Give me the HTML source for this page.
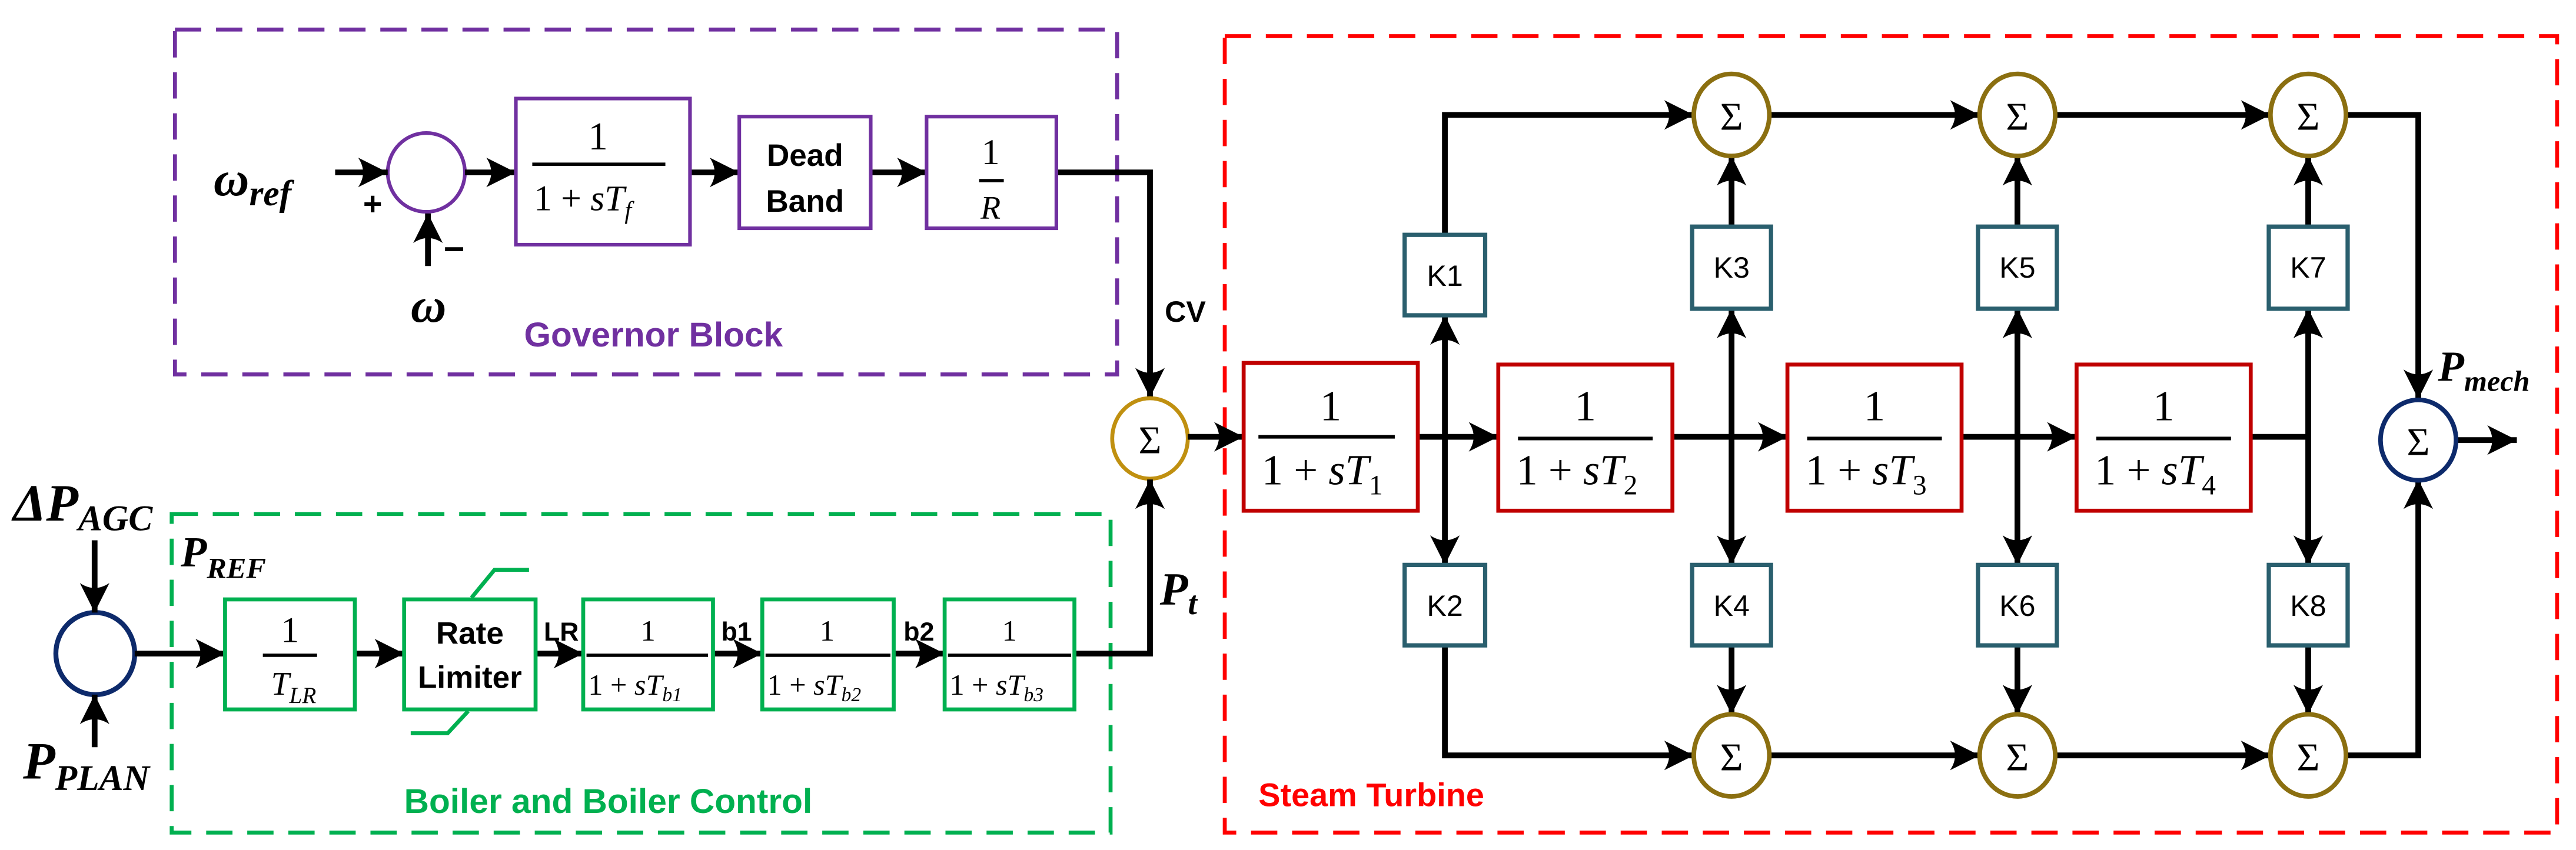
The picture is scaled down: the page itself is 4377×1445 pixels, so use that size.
<!DOCTYPE html>
<html><head><meta charset="utf-8"><style>
html,body{margin:0;padding:0;background:#fff;}
svg{display:block}
.m{font-family:"Liberation Serif",serif;font-style:italic;font-weight:bold}
.n{font-family:"Liberation Serif",serif}
.s{font-family:"Liberation Sans",sans-serif;font-weight:bold}
</style></head><body>
<svg width="4377" height="1445" viewBox="0 0 1568 517.6" preserveAspectRatio="none" xmlns="http://www.w3.org/2000/svg">
<defs>
<marker id="a" markerUnits="userSpaceOnUse" viewBox="-20 -10 22 20" markerWidth="22" markerHeight="20" refX="0" refY="0" orient="auto-start-reverse">
<path d="M0,0 L-18,-9 Q-12,0 -18,9 Z" fill="#000"/>
</marker>
</defs>
<g fill="none" stroke-width="2.4" stroke-dasharray="16,9">
<rect x="106.5" y="18" width="573.5" height="210" stroke="#7030a0"/>
<rect x="104.5" y="313" width="571.5" height="194" stroke="#00b050"/>
<rect x="745.5" y="22" width="811" height="485" stroke="#ff0000"/>
</g>
<!-- Governor -->
<text class="m" x="130" y="119" font-size="30">ω<tspan font-size="22" dy="6">ref</tspan></text>
<text class="s" x="221" y="131" font-size="20">+</text>
<text class="s" x="270" y="159" font-size="22">−</text>
<text class="m" x="250" y="196" font-size="30">ω</text>
<ellipse cx="259.5" cy="105" rx="23.5" ry="24" fill="none" stroke="#7030a0" stroke-width="2.2"/>
<g stroke="#000" stroke-width="3.5" fill="none" marker-end="url(#a)">
<line x1="204" y1="105" x2="236" y2="105"/>
<line x1="260.5" y1="162" x2="260.5" y2="130"/>
<line x1="283" y1="105" x2="314" y2="105"/>
<line x1="420" y1="105" x2="450" y2="105"/>
<line x1="530" y1="105" x2="564" y2="105"/>
<polyline points="643,105 700,105 700,242"/>
</g>
<rect x="314" y="60" width="106" height="89" fill="none" stroke="#7030a0" stroke-width="2.2"/>
<text class="n" x="364" y="91" font-size="24" text-anchor="middle">1</text>
<line x1="324" y1="100" x2="405" y2="100" stroke="#000" stroke-width="2"/>
<text class="n" x="325" y="128" font-size="22">1 + <tspan font-style="italic">sT</tspan><tspan font-style="italic" font-size="15" dy="5">f</tspan></text>
<rect x="450" y="71" width="80" height="68" fill="none" stroke="#7030a0" stroke-width="2.2"/>
<text class="s" x="490" y="101" font-size="19" text-anchor="middle">Dead</text>
<text class="s" x="490" y="129" font-size="19" text-anchor="middle">Band</text>
<rect x="564" y="71" width="79" height="68" fill="none" stroke="#7030a0" stroke-width="2.2"/>
<text class="n" x="603" y="100" font-size="22" text-anchor="middle">1</text>
<line x1="596" y1="110" x2="611" y2="110" stroke="#000" stroke-width="2"/>
<text class="n" x="603" y="133" font-size="20" font-style="italic" text-anchor="middle">R</text>
<text class="s" x="709" y="196" font-size="18">CV</text>
<text class="s" x="319" y="211" font-size="21" fill="#7030a0">Governor Block</text>
<!-- Mixing sum -->
<ellipse cx="700" cy="267" rx="23" ry="24.5" fill="none" stroke="#c09010" stroke-width="2.4"/>
<text class="n" x="700" y="276" font-size="24" text-anchor="middle">Σ</text>
<!-- Boiler -->
<text class="m" x="8" y="317" font-size="32">ΔP<tspan font-size="22" dy="6">AGC</tspan></text>
<text class="m" x="14" y="474" font-size="32">P<tspan font-size="22" dy="7">PLAN</tspan></text>
<text class="m" x="110" y="345" font-size="26">P<tspan font-size="18" dy="7">REF</tspan></text>
<ellipse cx="58" cy="398" rx="24" ry="25" fill="none" stroke="#0d2a6b" stroke-width="3"/>
<g stroke="#000" stroke-width="3.5" fill="none" marker-end="url(#a)">
<line x1="57.6" y1="329" x2="57.6" y2="373"/>
<line x1="57.6" y1="455" x2="57.6" y2="423"/>
<line x1="82" y1="398" x2="137" y2="398"/>
<line x1="216" y1="398" x2="246" y2="398"/>
<line x1="326" y1="398" x2="355" y2="398"/>
<line x1="434" y1="398" x2="464" y2="398"/>
<line x1="544" y1="398" x2="575" y2="398"/>
<polyline points="654,398 700,398 700,292"/>
</g>
<g fill="none" stroke="#00b050" stroke-width="2.4">
<rect x="137" y="365" width="79" height="67"/>
<rect x="246" y="365" width="80" height="67"/>
<rect x="355" y="365" width="79" height="67"/>
<rect x="464" y="365" width="80" height="67"/>
<rect x="575" y="365" width="79" height="67"/>
<polyline points="287,364 301,347 322,347"/>
<polyline points="285,433 272.5,446.5 250,446.5"/>
</g>
<text class="n" x="176.5" y="391" font-size="22" text-anchor="middle">1</text>
<line x1="160" y1="399" x2="193" y2="399" stroke="#000" stroke-width="2"/>
<text class="n" x="165" y="423" font-size="20" font-style="italic">T<tspan font-size="14" dy="5">LR</tspan></text>
<text class="s" x="286" y="392" font-size="19" text-anchor="middle">Rate</text>
<text class="s" x="286" y="419" font-size="19" text-anchor="middle">Limiter</text>
<text class="s" x="331" y="390" font-size="16">LR</text>
<text class="s" x="439" y="390" font-size="16">b1</text>
<text class="s" x="550" y="390" font-size="16">b2</text>
<g class="n" font-size="18">
<text x="394.5" y="390" text-anchor="middle">1</text>
<text x="503.5" y="390" text-anchor="middle">1</text>
<text x="614.5" y="390" text-anchor="middle">1</text>
<text x="358" y="423">1 + <tspan font-style="italic">sT</tspan><tspan font-style="italic" font-size="12" dy="4">b1</tspan></text>
<text x="467" y="423">1 + <tspan font-style="italic">sT</tspan><tspan font-style="italic" font-size="12" dy="4">b2</tspan></text>
<text x="578" y="423">1 + <tspan font-style="italic">sT</tspan><tspan font-style="italic" font-size="12" dy="4">b3</tspan></text>
</g>
<g stroke="#000" stroke-width="2">
<line x1="357" y1="399" x2="431" y2="399"/>
<line x1="466" y1="399" x2="542" y2="399"/>
<line x1="577" y1="399" x2="652" y2="399"/>
</g>
<text class="m" x="706" y="368" font-size="28">P<tspan font-size="20" dy="6">t</tspan></text>
<text class="s" x="246" y="495" font-size="21" fill="#00b050">Boiler and Boiler Control</text>
<!-- Steam turbine -->
<g stroke="#000" stroke-width="3.5" fill="none">
<line x1="723" y1="266" x2="757" y2="266" marker-end="url(#a)"/>
<line x1="863" y1="266" x2="912" y2="266" marker-end="url(#a)"/>
<line x1="1018" y1="266" x2="1088" y2="266" marker-end="url(#a)"/>
<line x1="1194" y1="266" x2="1264" y2="266" marker-end="url(#a)"/>
<line x1="1370" y1="266" x2="1405" y2="266"/>
<line x1="879.5" y1="192" x2="879.5" y2="344" marker-start="url(#a)" marker-end="url(#a)"/>
<line x1="1054" y1="188" x2="1054" y2="344" marker-start="url(#a)" marker-end="url(#a)"/>
<line x1="1228" y1="188" x2="1228" y2="344" marker-start="url(#a)" marker-end="url(#a)"/>
<line x1="1405" y1="188" x2="1405" y2="344" marker-start="url(#a)" marker-end="url(#a)"/>
<polyline points="879.5,143 879.5,70 1031,70" marker-end="url(#a)"/>
<line x1="1054" y1="138" x2="1054" y2="95" marker-end="url(#a)"/>
<line x1="1228" y1="138" x2="1228" y2="95" marker-end="url(#a)"/>
<line x1="1405" y1="138" x2="1405" y2="95" marker-end="url(#a)"/>
<line x1="1077" y1="70" x2="1205" y2="70" marker-end="url(#a)"/>
<line x1="1251" y1="70" x2="1382" y2="70" marker-end="url(#a)"/>
<polyline points="1428,70 1472,70 1472,243" marker-end="url(#a)"/>
<polyline points="879.5,393 879.5,460 1031,460" marker-end="url(#a)"/>
<line x1="1054" y1="393" x2="1054" y2="435" marker-end="url(#a)"/>
<line x1="1228" y1="393" x2="1228" y2="435" marker-end="url(#a)"/>
<line x1="1405" y1="393" x2="1405" y2="435" marker-end="url(#a)"/>
<line x1="1077" y1="460" x2="1205" y2="460" marker-end="url(#a)"/>
<line x1="1251" y1="460" x2="1382" y2="460" marker-end="url(#a)"/>
<polyline points="1428,460 1472,460 1472,292" marker-end="url(#a)"/>
<line x1="1495" y1="268" x2="1532" y2="268" marker-end="url(#a)"/>
</g>
<g fill="#fff" stroke="#c00000" stroke-width="2.4">
<rect x="757" y="221" width="106" height="90"/>
<rect x="912" y="222" width="106" height="89"/>
<rect x="1088" y="222" width="106" height="89"/>
<rect x="1264" y="222" width="106" height="89"/>
</g>
<g class="n" font-size="26">
<text x="810" y="256" text-anchor="middle">1</text>
<text x="965" y="256" text-anchor="middle">1</text>
<text x="1141" y="256" text-anchor="middle">1</text>
<text x="1317" y="256" text-anchor="middle">1</text>
<text x="768" y="295">1 + <tspan font-style="italic">sT</tspan><tspan font-size="17" dy="6">1</tspan></text>
<text x="923" y="295">1 + <tspan font-style="italic">sT</tspan><tspan font-size="17" dy="6">2</tspan></text>
<text x="1099" y="295">1 + <tspan font-style="italic">sT</tspan><tspan font-size="17" dy="6">3</tspan></text>
<text x="1275" y="295">1 + <tspan font-style="italic">sT</tspan><tspan font-size="17" dy="6">4</tspan></text>
</g>
<g stroke="#000" stroke-width="2.2">
<line x1="766" y1="266" x2="849" y2="266"/>
<line x1="924" y1="267" x2="1006" y2="267"/>
<line x1="1100" y1="267" x2="1182" y2="267"/>
<line x1="1276" y1="267" x2="1358" y2="267"/>
</g>
<g fill="#fff" stroke="#2a5f6e" stroke-width="2.6">
<rect x="855" y="143" width="49" height="49"/>
<rect x="855" y="344" width="49" height="49"/>
<rect x="1030" y="138" width="48" height="50"/>
<rect x="1030" y="344" width="48" height="49"/>
<rect x="1204" y="138" width="48" height="50"/>
<rect x="1204" y="344" width="48" height="49"/>
<rect x="1381" y="138" width="48" height="50"/>
<rect x="1381" y="344" width="48" height="49"/>
</g>
<g class="s" font-weight="normal" font-size="18" text-anchor="middle" style="font-weight:normal">
<text x="879.5" y="174">K1</text><text x="879.5" y="375">K2</text>
<text x="1054" y="169">K3</text><text x="1054" y="375">K4</text>
<text x="1228" y="169">K5</text><text x="1228" y="375">K6</text>
<text x="1405" y="169">K7</text><text x="1405" y="375">K8</text>
</g>
<g fill="#fff" stroke="#8b6f10" stroke-width="2.8">
<ellipse cx="1054" cy="70" rx="23" ry="25"/>
<ellipse cx="1228" cy="70" rx="23" ry="25"/>
<ellipse cx="1405" cy="70" rx="23" ry="25"/>
<ellipse cx="1054" cy="460" rx="23" ry="25"/>
<ellipse cx="1228" cy="460" rx="23" ry="25"/>
<ellipse cx="1405" cy="460" rx="23" ry="25"/>
</g>
<ellipse cx="1472" cy="268" rx="23" ry="24.5" fill="#fff" stroke="#0d2a6b" stroke-width="2.8"/>
<g class="n" font-size="24" text-anchor="middle">
<text x="1054" y="79">Σ</text><text x="1228" y="79">Σ</text><text x="1405" y="79">Σ</text>
<text x="1054" y="469">Σ</text><text x="1228" y="469">Σ</text><text x="1405" y="469">Σ</text>
<text x="1472" y="277">Σ</text>
</g>
<text class="m" x="1484" y="232" font-size="26">P<tspan font-size="18" dy="6">mech</tspan></text>
<text class="s" x="766" y="491" font-size="20" fill="#ff0000">Steam Turbine</text>
</svg>
</body></html>
